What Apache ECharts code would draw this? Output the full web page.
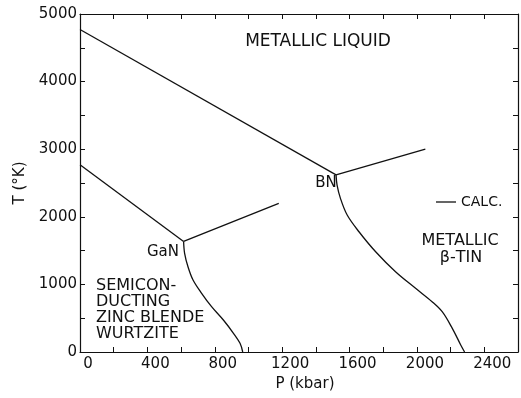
<!DOCTYPE html>
<html>
<head>
<meta charset="utf-8">
<script src="https://cdn.jsdelivr.net/npm/echarts@6/dist/echarts.min.js"></script>
<style>
  html, body { margin: 0; padding: 0; background: #fff; }
  #chart { width: 521px; height: 398px; }
</style>
</head>
<body>
<div id="chart"></div>
<script>
// phase boundaries, [P (kbar), T (K)]
var bnMelt = [[0, 4770], [1520, 2620]]
var bnBranch = [[1520, 2620], [2050, 3000]]
var bnCurve = [[1520, 2620], [1526, 2470], [1546, 2273], [1586, 2026], [1656, 1779], [1755, 1483],
  [1873, 1188], [1992, 942], [2090, 744], [2150, 596], [2210, 350], [2260, 104], [2283, 0]]
var ganMelt = [[0, 2770], [615, 1635]]
var ganBranch = [[615, 1635], [1180, 2200]]
var ganCurve = [[615, 1635], [621, 1460], [641, 1262], [671, 1065], [722, 868], [781, 670],
  [851, 473], [911, 277], [950, 129], [966, 0]]

var xTicks = [0, 400, 800, 1200, 1600, 2000, 2400]
var yTicks = [0, 1000, 2000, 3000, 4000, 5000]

var font = 'DejaVu Sans'
var ink = '#111'

var chartDom = document.getElementById('chart')
var myChart = echarts.init(chartDom)

function line(data, smooth) {
  return {
    name: 'CALC.',
    type: 'line',
    data: data,
    symbol: 'none',
    smooth: smooth,
    lineStyle: { color: ink, width: 1.3 },
    itemStyle: { color: ink },
    silent: true,
    animation: false
  }
}

function txt(x, y, s, size, align) {
  return {
    type: 'text',
    x: x,
    y: y,
    style: {
      text: s,
      font: size + 'px "' + font + '"',
      fill: ink,
      align: align || 'left',
      verticalAlign: 'middle'
    }
  }
}

var axisCommon = {
  type: 'value',
  axisLine: { show: true, onZero: false, lineStyle: { color: ink, width: 1.2 } },
  axisTick: { show: true, inside: true, length: 5, lineStyle: { color: ink, width: 1 } },
  splitLine: { show: false }
}

var option = {
  backgroundColor: '#fff',
  animation: false,
  grid: { left: 80, top: 14, right: 0, bottom: 46 },
  legend: {
    data: [{ name: 'CALC.', icon: 'rect' }],
    left: 436,
    top: 195,
    padding: 0,
    itemWidth: 20,
    itemHeight: 1.3,
    textStyle: { fontFamily: font, fontSize: 14, color: ink },
    selectedMode: false
  },
  xAxis: [
    Object.assign({}, axisCommon, {
      min: 0, max: 2600, interval: 200,
      name: 'P (kbar)',
      nameLocation: 'middle',
      nameGap: 25,
      nameTextStyle: { fontFamily: font, fontSize: 15, color: ink, padding: [0, 0, 0, 12] },
      axisLabel: {
        fontFamily: font, fontSize: 15, color: ink, margin: 5,
        padding: [0, 0, 0, 16],
        formatter: function (v) { return xTicks.indexOf(v) >= 0 ? String(v) : '' }
      }
    }),
    Object.assign({}, axisCommon, {
      min: 0, max: 2600, interval: 200, position: 'top',
      axisLabel: { show: false }
    })
  ],
  yAxis: [
    Object.assign({}, axisCommon, {
      min: 0, max: 5000, interval: 500,
      name: 'T (°K)',
      nameLocation: 'middle',
      nameGap: 48,
      nameTextStyle: { fontFamily: font, fontSize: 15, color: ink },
      axisLabel: {
        fontFamily: font, fontSize: 15, color: ink, margin: 3,
        formatter: function (v) { return yTicks.indexOf(v) >= 0 ? String(v) : '' }
      }
    }),
    Object.assign({}, axisCommon, {
      min: 0, max: 5000, interval: 500, position: 'right',
      axisLabel: { show: false }
    })
  ],
  graphic: [
    txt(318, 42, 'METALLIC LIQUID', 17, 'center'),
    txt(326, 183, 'BN', 15, 'center'),
    txt(163, 252, 'GaN', 15, 'center'),
    txt(460, 241, 'METALLIC', 16, 'center'),
    txt(461, 258, 'β-TIN', 16, 'center'),
    txt(96, 286, 'SEMICON-', 16),
    txt(96, 302, 'DUCTING', 16),
    txt(96, 318, 'ZINC BLENDE', 16),
    txt(96, 334, 'WURTZITE', 16)
  ],
  series: [
    line(bnMelt, false),
    line(bnBranch, false),
    line(bnCurve, 0.35),
    line(ganMelt, false),
    line(ganBranch, false),
    line(ganCurve, 0.35)
  ]
}

option && myChart.setOption(option)
</script>
</body>
</html>
